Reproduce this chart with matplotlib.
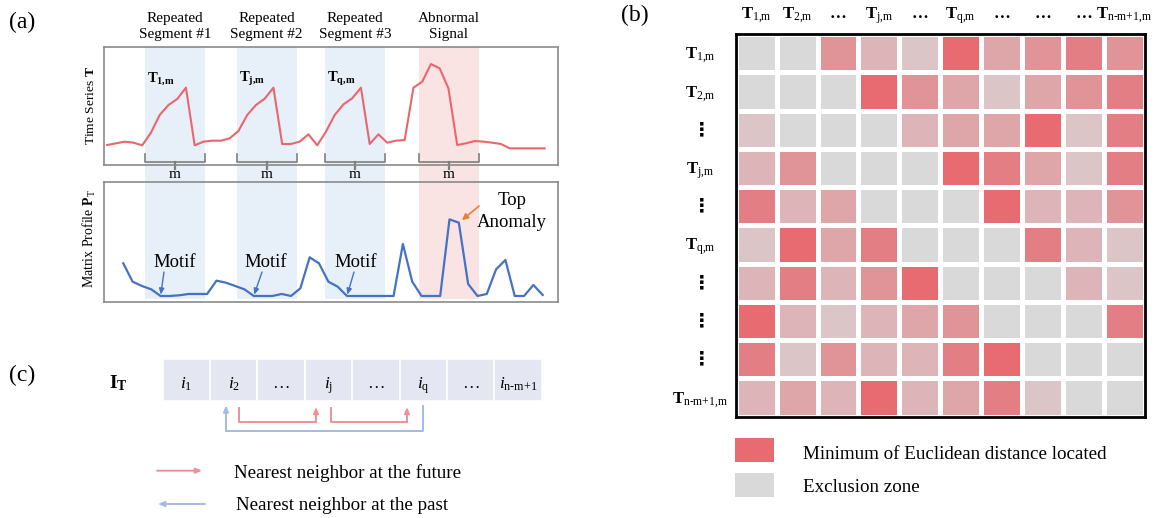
import numpy as np
import matplotlib
matplotlib.use('Agg')
import matplotlib.pyplot as plt
from matplotlib.colors import ListedColormap
from matplotlib.patches import Rectangle

plt.rcParams['font.family'] = ['Liberation Serif', 'DejaVu Sans']
plt.rcParams['mathtext.fontset'] = 'custom'
plt.rcParams['mathtext.rm'] = 'Liberation Serif'
plt.rcParams['mathtext.it'] = 'Liberation Serif:italic'
plt.rcParams['mathtext.bf'] = 'Liberation Serif:bold'

# ---------------- data ----------------
time_series = [2.5, 3.0, 3.5, 3.2, 2.4, 6.2, 11.5, 14.5, 16.3, 19.7,
               2.4, 3.5, 3.8, 3.8, 4.5, 6.7, 11.5, 14.5, 16.4, 19.7,
               2.8, 2.8, 3.5, 5.7, 2.4, 6.5, 11.5, 14.7, 16.5, 19.7,
               2.8, 5.7, 3.2, 3.8, 4.0, 19.7, 21.5, 26.8, 25.5, 19.5,
               2.5, 3.0, 3.7, 3.5, 3.2, 2.8, 1.5, 1.5, 1.5, 1.5, 1.5]
matrix_profile = [12.0, 6.5, 5.2, 4.2, 2.2, 2.2, 2.4, 2.8, 2.8, 2.8,
                  6.8, 6.2, 5.2, 4.2, 2.2, 2.2, 2.2, 2.8, 2.2, 4.5,
                  13.8, 12.0, 6.5, 5.0, 2.2, 2.2, 2.2, 2.2, 2.2, 2.2,
                  17.8, 6.5, 2.2, 2.2, 2.2, 25.2, 24.2, 5.8, 2.2, 2.8,
                  10.2, 13.0, 2.2, 2.2, 5.5, 2.5]
seg_names = ['Repeated\nSegment #1', 'Repeated\nSegment #2',
             'Repeated\nSegment #3', 'Abnormal\nSignal']
seg_starts = [4.3, 14.8, 24.9, 35.6]
seg_len = 6.85
seg_sub_labels = [r'$\mathbf{T}_{\mathbf{1{,}m}}$', r'$\mathbf{T}_{\mathbf{j{,}m}}$',
                  r'$\mathbf{T}_{\mathbf{q{,}m}}$']
motif_idx = [4, 14, 24]
anomaly_idx = 36

# distance-level matrix (0 = exclusion zone, 6 = minimum distance)
heat_levels = [
    [0, 0, 4, 2, 1, 6, 3, 4, 5, 4],
    [0, 0, 0, 6, 4, 3, 1, 3, 4, 5],
    [1, 0, 0, 0, 2, 3, 3, 6, 1, 5],
    [2, 4, 0, 0, 0, 6, 5, 3, 1, 5],
    [5, 2, 3, 0, 0, 0, 6, 2, 2, 4],
    [1, 6, 3, 5, 0, 0, 0, 5, 2, 1],
    [2, 5, 2, 4, 6, 0, 0, 0, 2, 1],
    [6, 2, 1, 2, 3, 4, 0, 0, 0, 5],
    [5, 1, 4, 2, 2, 5, 6, 0, 0, 0],
    [2, 3, 2, 6, 2, 3, 5, 1, 0, 0],
]
heat_colors = ['#d9d9d9', '#dbc5c6', '#ddb5b9', '#dfa6a9', '#e19498', '#e37e84', '#e76b70']
SUB_NM = r'\mathrm{n\text{-}m\text{+}1{,}m}'
col_labels = [r'$\mathbf{T}_{\mathrm{1{,}m}}$', r'$\mathbf{T}_{\mathrm{2{,}m}}$', '…',
              r'$\mathbf{T}_{\mathrm{j{,}m}}$', '…', r'$\mathbf{T}_{\mathrm{q{,}m}}$',
              '…', '…', '…', r'$\mathbf{T}_{' + SUB_NM + '}$']
row_labels = [r'$\mathbf{T}_{\mathrm{1{,}m}}$', r'$\mathbf{T}_{\mathrm{2{,}m}}$', '⋮',
              r'$\mathbf{T}_{\mathrm{j{,}m}}$', '⋮', r'$\mathbf{T}_{\mathrm{q{,}m}}$',
              '⋮', '⋮', '⋮', r'$\mathbf{T}_{' + SUB_NM + '}$']
index_labels = [r'$\mathit{i}_{\mathrm{1}}$', r'$\mathit{i}_{\mathrm{2}}$', '…',
                r'$\mathit{i}_{\mathrm{j}}$', '…', r'$\mathit{i}_{\mathrm{q}}$', '…',
                r'$\mathit{i}_{\mathrm{n\text{-}m\text{+}1}}$']

# ---------------- figure ----------------
W, H = 1166, 518
fig = plt.figure(figsize=(W / 100, H / 100), dpi=100)


def box(x0, y0, x1, y1):
    return [x0 / W, 1 - y1 / H, (x1 - x0) / W, (y1 - y0) / H]


RED = '#e8676d'
BLUE = '#4472c4'
FRAME = '#8a8a8a'
ts_xlim = (-0.41, 51.51)
mp_xlim = (-2.11, 46.63)

# overlay in pixel coordinates
ax_over = fig.add_axes([0, 0, 1, 1], zorder=5)
ax_over.set_xlim(0, W)
ax_over.set_ylim(H, 0)
ax_over.axis('off')
ax_over.patch.set_alpha(0)

# background: segment shading, brackets
ax_bg = fig.add_axes(box(103.6, 46.7, 557.9, 298.5), zorder=0)
ax_bg.set_xlim(*ts_xlim)
ax_bg.set_ylim(298.5, 46.7)
ax_bg.axis('off')
for k, (name, s) in enumerate(zip(seg_names, seg_starts)):
    col = '#f9e3e3' if k == 3 else '#e7eff8'
    ax_bg.axvspan(s, s + seg_len, color=col, lw=0)
    mid = s + seg_len / 2
    ax_bg.plot([s, s, s + seg_len, s + seg_len], [154, 161.7, 161.7, 154],
               color='#7f7f7f', lw=1.2, clip_on=False, zorder=3)
    ax_bg.plot([mid, mid], [161.7, 169], color='#7f7f7f', lw=1.6, clip_on=False, zorder=3)
    ax_bg.text(mid, 178.3, 'm', ha='center', va='baseline', fontsize=11)
    ax_bg.text(mid, 21.7, name.split('\n')[0], ha='center', va='baseline', fontsize=11)
    ax_bg.text(mid, 38.3, name.split('\n')[1], ha='center', va='baseline', fontsize=11)
    if k < 3:
        ax_bg.text(s + 0.25, 81.7, seg_sub_labels[k], ha='left', va='baseline', fontsize=10.5)

# time series
ax_ts = fig.add_axes(box(103.6, 46.7, 557.9, 165), zorder=1)
ax_ts.patch.set_alpha(0)
ax_ts.plot(np.arange(len(time_series)), time_series, color=RED, lw=1.5)
ax_ts.set_xlim(*ts_xlim)
ax_ts.set_ylim(-3.5, 32)
ax_ts.set_xticks([])
ax_ts.set_yticks([])
for sp in ax_ts.spines.values():
    sp.set_color(FRAME)
    sp.set_linewidth(1.2)

# matrix profile
ax_mp = fig.add_axes(box(103.6, 181.7, 557.9, 302.3), zorder=1)
ax_mp.patch.set_alpha(0)
ax_mp.plot(np.arange(len(matrix_profile)), matrix_profile, color=BLUE, lw=1.6)
ax_mp.set_xlim(*mp_xlim)
ax_mp.set_ylim(0.3, 36.5)
ax_mp.set_xticks([])
ax_mp.set_yticks([])
for sp in ax_mp.spines.values():
    sp.set_color(FRAME)
    sp.set_linewidth(1.2)

motif_text_pos = [(175, 266.7), (266, 266.7), (356, 266.7)]
motif_arrow_start = [(164, 272), (262, 272), (354, 272)]
for idx, tp, st in zip(motif_idx, motif_text_pos, motif_arrow_start):
    ax_over.text(tp[0], tp[1], 'Motif', ha='center', va='baseline', fontsize=13.5)
    ax_mp.annotate('', xy=(idx, matrix_profile[idx]), xytext=st,
                   textcoords=ax_over.transData,
                   arrowprops=dict(arrowstyle='-|>,head_length=0.35,head_width=0.15',
                                   color=BLUE, lw=1.0, shrinkA=0, shrinkB=1))
ax_over.text(512, 205, 'Top', ha='center', va='baseline', fontsize=13.5)
ax_over.text(512, 226.7, 'Anomaly', ha='center', va='baseline', fontsize=13.5)
ax_mp.annotate('', xy=(anomaly_idx, matrix_profile[anomaly_idx]), xytext=(479, 206),
               textcoords=ax_over.transData,
               arrowprops=dict(arrowstyle='-|>,head_length=0.35,head_width=0.18',
                               color='#ed7d31', lw=1.2, shrinkA=0, shrinkB=3))

ax_over.text(91, 105, r'Time Series $\mathbf{T}$', rotation=90, ha='center', va='center', fontsize=9.7)
ax_over.text(89, 239, r'Matrix Profile $\mathbf{P}_{\mathrm{T}}$', rotation=90, ha='center', va='center', fontsize=10)

# panel labels
ax_over.text(22, 22, '(a)', ha='center', va='center', fontsize=17)
ax_over.text(635, 15, '(b)', ha='center', va='center', fontsize=17)
ax_over.text(22, 375, '(c)', ha='center', va='center', fontsize=17)

# ---------------- (b) matrix ----------------
ax_hm = fig.add_axes(box(735.7, 34, 1145, 416.7), zorder=2)
ax_hm.pcolormesh(np.array(heat_levels), cmap=ListedColormap(heat_colors),
                 vmin=-0.5, vmax=6.5, edgecolors='white', linewidth=2.2)
ax_hm.set_xlim(0, 10)
ax_hm.set_ylim(10, 0)
ax_hm.set_xticks([])
ax_hm.set_yticks([])
for sp in ax_hm.spines.values():
    sp.set_color('black')
    sp.set_linewidth(2)
for j, lab in enumerate(col_labels):
    ax_hm.text(j + 0.5, -0.408, lab, ha='center', va='baseline', fontsize=12,
               fontweight='bold', clip_on=False)
for i, lab in enumerate(row_labels):
    if lab == '⋮':
        ax_hm.text(-0.82, i + 0.5, lab, ha='center', va='center', fontsize=14,
                   fontweight='bold', family=['DejaVu Sans'], clip_on=False)
    else:
        ax_hm.text(-0.87, i + 0.5 + 0.146, lab, ha='center', va='baseline',
                   fontsize=12, clip_on=False)

ax_over.add_patch(Rectangle((735, 438), 39, 24, color=heat_colors[-1], lw=0))
ax_over.add_patch(Rectangle((735, 473), 39, 24, color=heat_colors[0], lw=0))
ax_over.text(803, 459.3, 'Minimum of Euclidean distance located', ha='left', va='baseline', fontsize=13.7)
ax_over.text(803, 492, 'Exclusion zone', ha='left', va='baseline', fontsize=13.7)

# ---------------- (c) index ----------------
cx0, cw, cy0, cy1 = 162.5, 47.4, 359.3, 400.7
for k, lab in enumerate(index_labels):
    ax_over.add_patch(Rectangle((cx0 + k * cw, cy0), cw, cy1 - cy0,
                                facecolor='#e4e7f2', edgecolor='white', lw=1.2))
    ax_over.text(cx0 + (k + 0.5) * cw, 388.3, lab, ha='center', va='baseline', fontsize=12.5)
ax_over.text(118, 388.3, r'$\mathbf{I}_{\mathbf{T}}$', ha='center', va='baseline', fontsize=14)

RED_L = '#ee9196'
BLUE_L = '#a3bbe6'
ahead = '-|>,head_length=0.35,head_width=0.15'
for xa, xb in [(239, 316), (331, 407)]:
    ax_over.plot([xa, xa, xb], [408, 421.7, 421.7], color=RED_L, lw=1.4)
    ax_over.annotate('', xy=(xb, 407), xytext=(xb, 421.7),
                     arrowprops=dict(arrowstyle=ahead, color=RED_L, lw=1.4, shrinkA=0, shrinkB=0))
ax_over.plot([423, 423, 226], [406, 430.7, 430.7], color=BLUE_L, lw=1.4)
ax_over.annotate('', xy=(226, 405.5), xytext=(226, 430.7),
                 arrowprops=dict(arrowstyle=ahead, color=BLUE_L, lw=1.4, shrinkA=0, shrinkB=0))

ax_over.annotate('', xy=(202, 470.7), xytext=(157, 470.7),
                 arrowprops=dict(arrowstyle=ahead, color=RED_L, lw=1.4, shrinkA=0, shrinkB=0))
ax_over.text(234, 478.3, 'Nearest neighbor at the future', ha='left', va='baseline', fontsize=13.7)
ax_over.annotate('', xy=(158, 504), xytext=(205, 504),
                 arrowprops=dict(arrowstyle=ahead, color=BLUE_L, lw=1.4, shrinkA=0, shrinkB=0))
ax_over.text(236, 510, 'Nearest neighbor at the past', ha='left', va='baseline', fontsize=13.7)

fig.savefig('out.png', dpi=100)
